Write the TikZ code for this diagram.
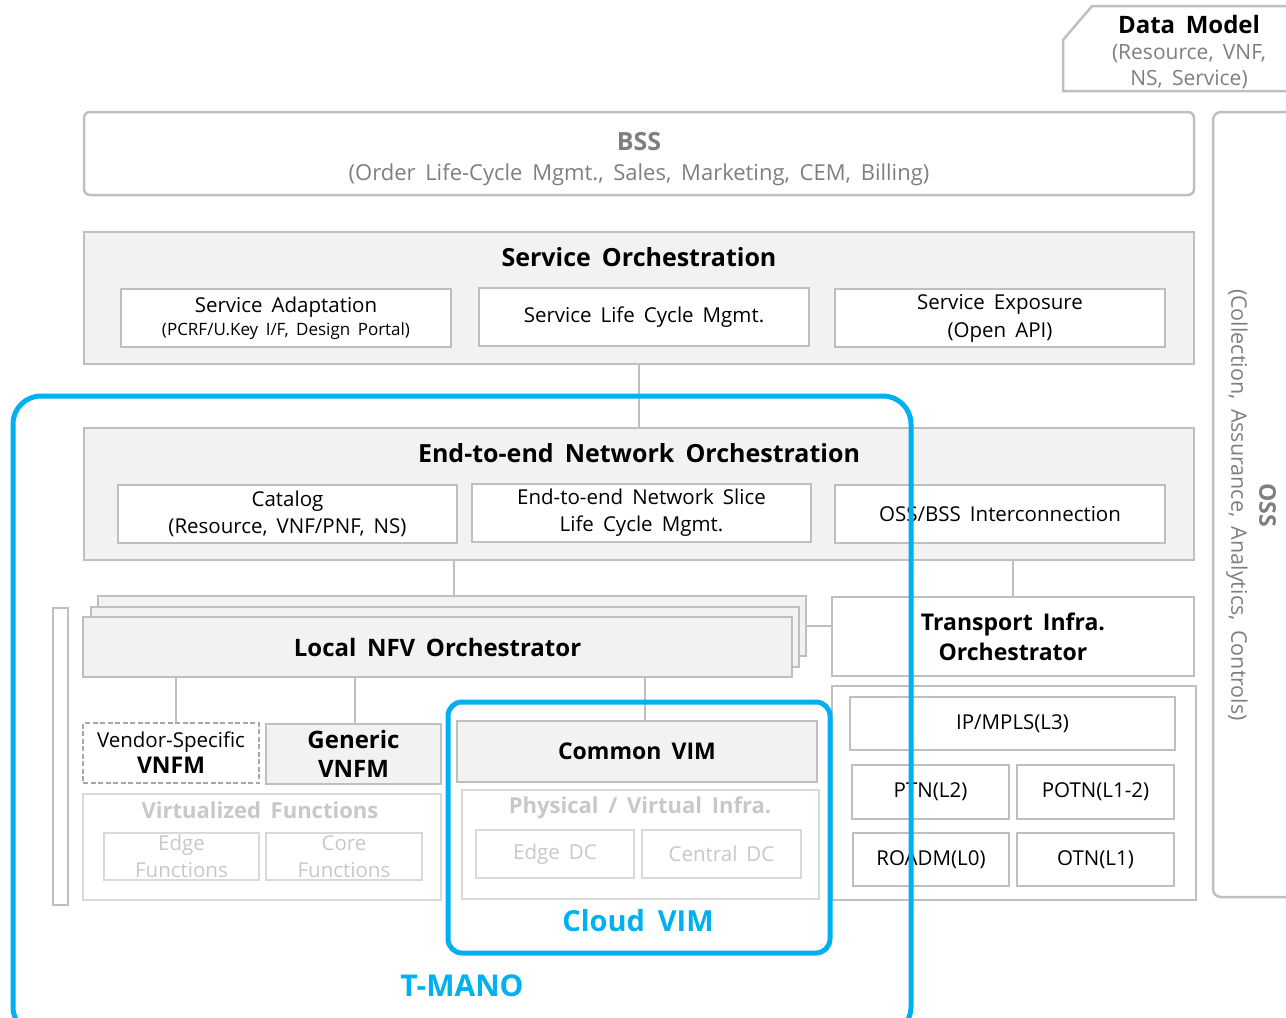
\documentclass[tikz,border=0pt]{standalone}
\usepackage{fontspec}
\setmainfont[WordSpace=1.7]{Open Sans}
\definecolor{lgray}{HTML}{BFBFBF}
\definecolor{bgray}{HTML}{F2F2F2}
\definecolor{dgray}{HTML}{7F7F7F}
\definecolor{fgray}{HTML}{D9D9D9}
\definecolor{ftext}{HTML}{C8C8C8}
\definecolor{tblue}{HTML}{00B0F0}
\newcommand{\fsz}[2]{\fontsize{#1}{#2}\selectfont}

\begin{document}
\begin{tikzpicture}[x=1pt, y=-1pt,
    box/.style={draw=lgray, line width=2.5pt, fill=white, inner sep=0pt,
      align=center, font=\fsz{20.5}{27}},
    panel/.style={box, fill=bgray},
    head/.style={inner sep=0pt, font=\bfseries\fsz{25}{30}},
    faded/.style={box, draw=fgray, text=ftext},
    blueframe/.style={draw=tblue, line width=5pt, inner sep=0pt},
    wire/.style={draw=lgray, line width=2pt}
  ]
  \useasboundingbox (0,0) rectangle (1286,1018);

  % data model tab
  \draw[lgray, line width=2.5pt, fill=white]
    (1300,6) -- (1092,6) -- (1063,40) -- (1063,91) -- (1300,91);
  \node[align=center, text=dgray, font=\fsz{21}{26}] (dm) at (1189,52)
    {{\color{black}\bfseries\fsz{24}{26}Data Model}\\(Resource, VNF,\\NS, Service)};

  % bss and oss
  \node[box, rounded corners=6pt, minimum width=1110pt, minimum height=83pt] (bss) at (639,153.5) {};
  \node[align=center, text=dgray, font=\fsz{22}{30}] (bsst) at (639,159)
    {{\bfseries\fsz{25}{30}BSS}\\(Order Life-Cycle Mgmt., Sales, Marketing, CEM, Billing)};
  \node[box, rounded corners=8pt, minimum width=97pt, minimum height=785pt] (oss) at (1261.5,504.5) {};
  \node[rotate=-90, align=center, text=dgray, font=\fsz{21.5}{28}] (osst) at (1251,505)
    {{\bfseries\fsz{23}{28}OSS}\\(Collection, Assurance, Analytics, Controls)};

  % service orchestration
  \node[panel, minimum width=1110pt, minimum height=132pt] (so) at (639,298) {};
  \node[head] (sot) at (639,257) {Service Orchestration};
  \node[box, minimum width=330pt, minimum height=58pt] (sa) at (286,318)
    {Service Adaptation\\[-4pt]{\fsz{17}{20}(PCRF/U.Key I/F, Design Portal)}};
  \node[box, minimum width=330pt, minimum height=58pt] (slcm) at (644,317) {Service Life Cycle Mgmt.};
  \node[box, minimum width=330pt, minimum height=58pt, font=\fsz{20.5}{28}] (sexp) at (1000,318)
    {Service Exposure\\(Open API)};

  % end-to-end network orchestration
  \node[panel, minimum width=1110pt, minimum height=132pt] (e2e) at (639,494) {};
  \node[head] (e2et) at (639,453) {End-to-end Network Orchestration};
  \node[box, minimum width=339pt, minimum height=58pt] (cat) at (287.5,514)
    {Catalog\\(Resource, VNF/PNF, NS)};
  \node[box, minimum width=339pt, minimum height=58pt] (slice) at (641.5,513)
    {End-to-end Network Slice\\Life Cycle Mgmt.};
  \node[box, minimum width=330pt, minimum height=58pt] (obi) at (1000,514) {OSS/BSS Interconnection};

  % local nfv orchestrator stack
  \node[panel, minimum width=708pt, minimum height=60pt] (lnfvoB) at (452,626) {};
  \node[panel, minimum width=708pt, minimum height=60pt] (lnfvoC) at (445,637) {};
  \node[panel, minimum width=709pt, minimum height=60pt, font=\bfseries\fsz{24}{30}] (lnfvo) at (437.5,647)
    {Local NFV Orchestrator};
  \node[box, line width=2pt, minimum width=15pt, minimum height=297pt] (side) at (60.5,756.5) {};

  % vnfm and virtualized functions
  \node[box, dashed, dash pattern=on 5pt off 2.5pt, draw=gray!70, minimum width=176pt, minimum height=60pt] (vnfmV) at (171,753)
    {Vendor-Specific\\[-1pt]{\bfseries\fsz{23}{27}VNFM}};
  \node[panel, minimum width=175pt, minimum height=60pt, font=\bfseries\fsz{24}{29}] (vnfmG) at (353.5,754)
    {Generic\\VNFM};
  \node[faded, minimum width=358pt, minimum height=106pt] (vf) at (262,847) {};
  \node[head, text=ftext, font=\bfseries\fsz{22}{28}] (vft) at (260,810) {Virtualized Functions};
  \node[faded, minimum width=155pt, minimum height=47pt] (edgef) at (181.5,856.5) {Edge\\Functions};
  \node[faded, minimum width=156pt, minimum height=47pt] (coref) at (344,856.5) {Core\\Functions};

  % vim
  \node[panel, minimum width=360pt, minimum height=61pt, font=\bfseries\fsz{23}{30}] (cvim) at (637,751.5) {Common VIM};
  \node[faded, minimum width=357pt, minimum height=109pt] (pvi) at (640.5,844.5) {};
  \node[head, text=ftext, font=\bfseries\fsz{22}{28}] (pvit) at (640,808) {Physical / Virtual Infra.};
  \node[faded, minimum width=158pt, minimum height=48pt] (edc) at (555,854) {Edge DC};
  \node[faded, minimum width=159pt, minimum height=48pt] (cdc) at (721.5,854) {Central DC};

  % transport
  \node[box, minimum width=362pt, minimum height=79pt, font=\bfseries\fsz{23}{30}] (tio) at (1013,636.5)
    {Transport Infra.\\Orchestrator};
  \node[box, minimum width=364pt, minimum height=214pt] (tnet) at (1014,793) {};
  \node[box, minimum width=325pt, minimum height=53pt] (ipmpls) at (1012.5,723.5) {IP/MPLS(L3)};
  \node[box, minimum width=157pt, minimum height=54pt] (ptn) at (930.5,792) {PTN(L2)};
  \node[box, minimum width=157pt, minimum height=54pt] (potn) at (1095.5,792) {POTN(L1-2)};
  \node[box, minimum width=156pt, minimum height=53pt] (roadm) at (931,859.5) {ROADM(L0)};
  \node[box, minimum width=157pt, minimum height=53pt] (otn) at (1095.5,859.5) {OTN(L1)};

  % connectors
  \draw[wire] (so.south) -- (e2e.north);
  \draw[wire] (454,0 |- e2e.south) -- (454,0 |- lnfvoB.north);
  \draw[wire] (tio.north) -- (tio.north |- e2e.south);
  \draw[wire] (lnfvoB.east) -- (lnfvoB.east -| tio.west);
  \draw[wire] ([xshift=5pt]vnfmV.north) -- ([xshift=5pt]vnfmV.north |- lnfvo.south);
  \draw[wire] ([xshift=1.5pt]vnfmG.north) -- ([xshift=1.5pt]vnfmG.north |- lnfvo.south);
  \draw[wire] ([xshift=8pt]cvim.north) -- ([xshift=8pt]cvim.north |- lnfvo.south);

  % blue frames
  \node[blueframe, rounded corners=14pt, minimum width=382pt, minimum height=251pt] (cloud) at (639,827.5) {};
  \node[text=tblue, font=\bfseries\fsz{29}{36}] (cloudt) at (638,921) {Cloud VIM};
  \node[blueframe, rounded corners=28pt, minimum width=898pt, minimum height=639pt] (tmano) at (462,715.5) {};
  \node[text=tblue, font=\bfseries\fsz{30}{36}] (tmanot) at (462,986) {T-MANO};
\end{tikzpicture}
\end{document}
